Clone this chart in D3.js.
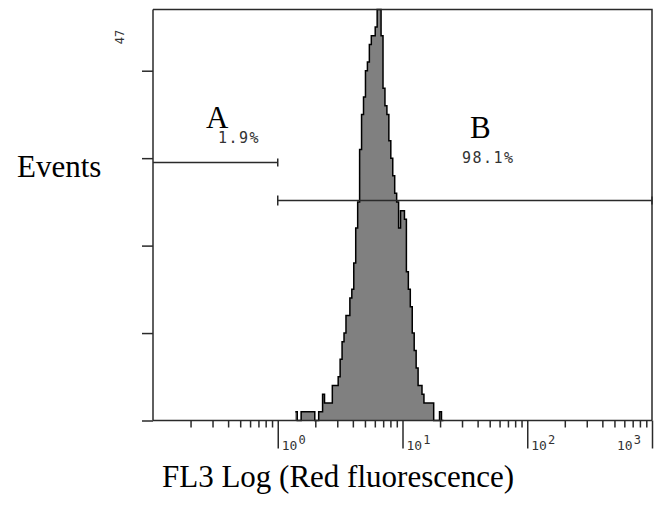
<!DOCTYPE html>
<html>
<head>
<meta charset="utf-8">
<script src="https://cdn.jsdelivr.net/npm/d3@7/dist/d3.min.js"></script>
<style>
  html, body { margin: 0; padding: 0; background: #fff; }
  svg { display: block; }
</style>
</head>
<body>
<svg id="chart" width="656" height="510"></svg>
<script>
// FL3 histogram: 256 log channels spanning four decades (10^-1 .. 10^3)
const channelsPerDecade = 64;
const firstChannel = 73;
const counts = [
  1, 0, 0, 1, 1, 1, 1, 1, 1, 1, 0, 0, 1, 1, 3, 2, 2, 2, 2, 4,
  4, 4, 5, 7, 9, 10, 12, 12, 14, 15, 18, 22, 25, 31, 35, 37, 40, 41, 43, 44,
  44, 45, 47, 47, 44, 38, 36, 35, 32, 30, 28, 26, 25, 22, 24, 24, 23, 17, 15, 13,
  10, 8, 6, 4, 4, 3, 2, 2, 2, 2, 2, 0, 0, 0, 1, 0
];

// Axis definitions
const xDomain = [0.1, 1000];
const yMax = 47;
const yTicks = [0, 10, 20, 30, 40];
const decadeTicks = [1, 10, 100, 1000];
const decadeExponents = ["0", "1", "2", "3"];

// Analysis gates
const gateNames = ["A", "B"];
const gateRanges = [[0.1, 1], [1, 1000]];
const gatePercents = ["1.9%", "98.1%"];

const svg = d3.select("#chart");

const plot = { left: 153, right: 652, top: 9.5, bottom: 420.5 };

const x = d3.scaleLog().domain(xDomain).range([plot.left, plot.right]);
const y = d3.scaleLinear().domain([0, yMax]).range([plot.bottom, plot.top]);

const chanValue = c => Math.pow(10, c / channelsPerDecade - 1);

// step data: each bin starts at its channel edge, closing point at the last edge
const bins = counts.map((v, i) => ({ c: firstChannel + i, v }));
bins.push({ c: firstChannel + counts.length, v: 0 });

const area = d3.area()
  .x(d => x(chanValue(d.c)))
  .y0(y(0))
  .y1(d => y(d.v))
  .curve(d3.curveStepAfter);

const line = d3.line()
  .x(d => x(chanValue(d.c)))
  .y(d => y(d.v))
  .curve(d3.curveStepAfter);

const ink = "#2a2a2a";

svg.append("path")
  .datum(bins)
  .attr("d", area)
  .attr("fill", "#808080");

svg.append("path")
  .datum(bins)
  .attr("d", line)
  .attr("fill", "none")
  .attr("stroke", "#000")
  .attr("stroke-width", 1.5);

// frame: top and right edges
svg.append("path")
  .attr("d", `M${plot.left},${plot.top}H${plot.right}V${plot.bottom}`)
  .attr("fill", "none")
  .attr("stroke", ink)
  .attr("stroke-width", 1.5);

// y axis: ticks only
const yAxis = svg.append("g")
  .attr("transform", `translate(${plot.left},0)`)
  .call(d3.axisLeft(y).tickValues(yTicks).tickSize(11).tickFormat(""));
yAxis.select(".domain").attr("stroke", ink).attr("stroke-width", 1.5)
  .attr("d", `M0,${plot.bottom}V${plot.top}`);
yAxis.selectAll(".tick line").attr("stroke", ink).attr("stroke-width", 1.5);

// max count label, rotated
svg.append("text")
  .attr("transform", `translate(124,37) rotate(-90)`)
  .attr("text-anchor", "middle")
  .attr("font-family", "DejaVu Sans Mono, monospace")
  .attr("font-size", 12)
  .attr("fill", "#333")
  .text(String(yMax));

// x axis: minor ticks
const minorTicks = [];
for (let d = 0.1; d < 1000; d *= 10) {
  for (let k = 2; k <= 9; k++) minorTicks.push(d * k);
}
const xMinor = svg.append("g")
  .attr("transform", `translate(0,${plot.bottom})`)
  .call(d3.axisBottom(x).tickValues(minorTicks).tickSize(7).tickFormat(""));
xMinor.select(".domain").attr("stroke", ink).attr("stroke-width", 1.5)
  .attr("d", `M${plot.left},0H${plot.right}`);
xMinor.selectAll(".tick line").attr("stroke", ink).attr("stroke-width", 1.5);

// x axis: decade ticks
const xMajor = svg.append("g")
  .attr("transform", `translate(0,${plot.bottom})`)
  .call(d3.axisBottom(x).tickValues(decadeTicks).tickSize(28).tickFormat(""));
xMajor.select(".domain").remove();
xMajor.selectAll(".tick line").attr("stroke", ink).attr("stroke-width", 1.5);

// decade labels 10^n
decadeTicks.forEach((v, i) => {
  const last = i === decadeTicks.length - 1;
  const t = svg.append("text")
    .attr("x", last ? x(v) - 35 : x(v) + 4)
    .attr("y", 450)
    .attr("font-family", "DejaVu Sans Mono, monospace")
    .attr("font-size", 13)
    .attr("fill", "#333");
  t.append("tspan").text("10");
  t.append("tspan").attr("dx", 1).attr("dy", -6).attr("font-size", 12).text(decadeExponents[i]);
});

// gate bars
const gateLevels = [162, 200];
gateRanges.forEach((r, i) => {
  const gy = gateLevels[i] + 0.5;
  const g = svg.append("g").attr("stroke", ink).attr("stroke-width", 1.5);
  g.append("line").attr("x1", x(r[0])).attr("x2", x(r[1])).attr("y1", gy).attr("y2", gy);
  g.append("line").attr("x1", x(r[1])).attr("x2", x(r[1])).attr("y1", gy - 4).attr("y2", gy + 4);
  if (r[0] > xDomain[0]) {
    g.append("line").attr("x1", x(r[0])).attr("x2", x(r[0])).attr("y1", gy - 5).attr("y2", gy + 5);
  }
});

// gate names and percentages
const nameSpots = [[206, 128], [470, 138]];
const pctSpots = [[218, 143], [462, 163]];
gateNames.forEach((n, i) => {
  svg.append("text")
    .attr("x", nameSpots[i][0]).attr("y", nameSpots[i][1])
    .attr("font-family", "Liberation Serif, Times New Roman, serif")
    .attr("font-size", 31)
    .attr("fill", "#000")
    .text(n);
  svg.append("text")
    .attr("x", pctSpots[i][0]).attr("y", pctSpots[i][1])
    .attr("font-family", "DejaVu Sans Mono, monospace")
    .attr("font-size", 15)
    .attr("letter-spacing", 1.5)
    .attr("fill", "#333")
    .text(gatePercents[i]);
});

// axis titles
svg.append("text")
  .attr("x", 17).attr("y", 177)
  .attr("font-family", "Liberation Serif, Times New Roman, serif")
  .attr("font-size", 31)
  .attr("fill", "#000")
  .text("Events");

svg.append("text")
  .attr("x", 162).attr("y", 487)
  .attr("font-family", "Liberation Serif, Times New Roman, serif")
  .attr("font-size", 31)
  .attr("fill", "#000")
  .text("FL3 Log (Red fluorescence)");
</script>
</body>
</html>
